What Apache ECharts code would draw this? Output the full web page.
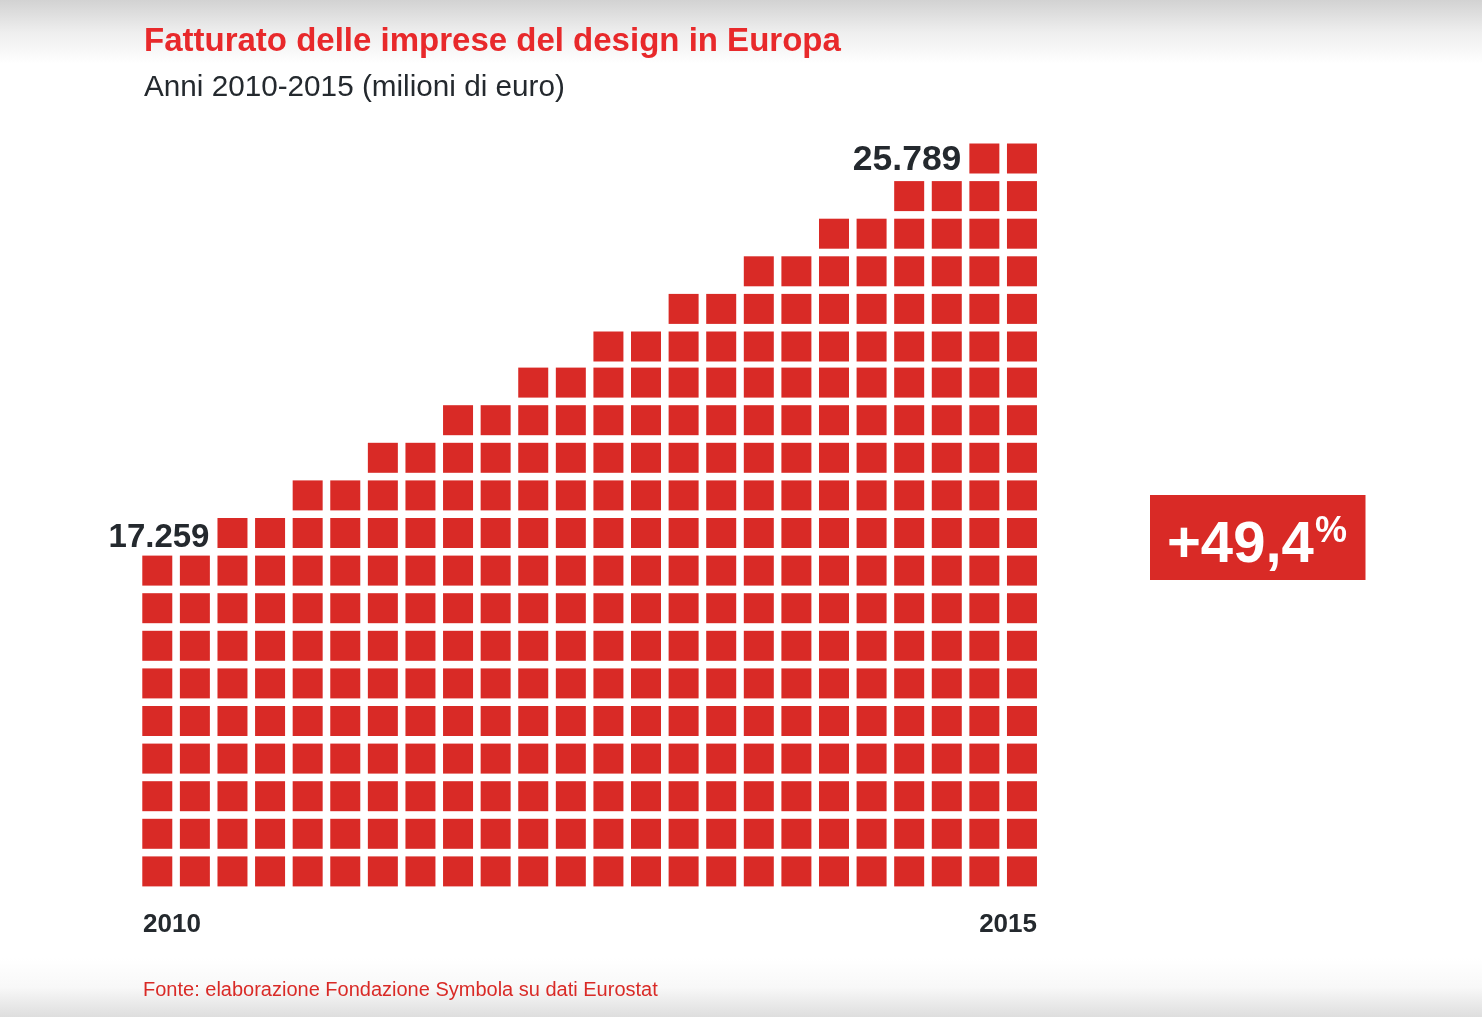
<!DOCTYPE html>
<html><head><meta charset="utf-8">
<style>html,body{margin:0;padding:0;background:#fff}#c{width:1482px;height:1017px}</style>
<script src="https://cdn.jsdelivr.net/npm/echarts@6/dist/echarts.min.js"></script>
</head><body><div id="c"></div>
<script>
const columnHeights = [9,9,10,10,11,11,12,12,13,13,14,14,15,15,16,16,17,17,18,18,19,19,20,20];
const yearLabels = ['2010','2015'];
const firstValue = '17.259';
const lastValue = '25.789';
const growth = '+49,4';
const titleText = 'Fatturato delle imprese del design in Europa';
const subtitleText = 'Anni 2010-2015 (milioni di euro)';
const sourceText = 'Fonte: elaborazione Fondazione Symbola su dati Eurostat';

const RED = '#d92a26', DARK = '#24292e', FONT = '"Liberation Sans", Arial, sans-serif';
const valueLabel = (text, size, dy) => ({show:true, position:'left', distance:8, offset:[0,dy], formatter:text,
  color:DARK, fontFamily:FONT, fontWeight:'bold', fontSize:size});

const squares = [];
columnHeights.forEach((h, c) => {
  for (let r = 0; r < h; r++) {
    const item = {value:[c, r + 0.5]};
    if (r >= 14) item.symbolOffset = [0, 1.5];
    if (c === 2 && r === h - 1) item.label = valueLabel(firstValue, 33, 5);
    if (c === 22 && r === h - 1) item.label = valueLabel(lastValue, 35.5, 2);
    squares.push(item);
  }
});

const chart = echarts.init(document.getElementById('c'));
chart.setOption({
  animation:false,
  backgroundColor:'#fff',
  title:{
    text:titleText, subtext:subtitleText, left:139, top:20, itemGap:15,
    textStyle:{color:'#e8292b', fontFamily:FONT, fontWeight:'bold', fontSize:33},
    subtextStyle:{color:DARK, fontFamily:FONT, fontSize:29.7}
  },
  grid:{left:143, right:445, top:138.2, bottom:126.8},
  xAxis:{
    type:'value', min:-0.38, max:23.4,
    axisLine:{show:false}, axisTick:{show:false}, splitLine:{show:false},
    axisLabel:{
      customValues:[-0.38, 23.4],
      formatter:v => v < 0 ? yearLabels[0] : yearLabels[1],
      alignMinLabel:'left', alignMaxLabel:'right',
      margin:22, color:DARK, fontFamily:FONT, fontWeight:'bold', fontSize:26
    }
  },
  yAxis:{type:'value', min:0, max:20, show:false},
  graphic:[
    {type:'rect', z:-10, shape:{x:0,y:0,width:1482,height:64},
     style:{fill:new echarts.graphic.LinearGradient(0,0,0,1,[{offset:0,color:'#d2d2d2'},{offset:0.5,color:'#eeeeee'},{offset:1,color:'#ffffff'}])}},
    {type:'rect', z:-10, shape:{x:0,y:958,width:1482,height:59},
     style:{fill:new echarts.graphic.LinearGradient(0,0,0,1,[{offset:0,color:'#ffffff'},{offset:0.5,color:'#f8f8f8'},{offset:1,color:'#dedede'}])}},
    {type:'rect', shape:{x:1150,y:495,width:215.5,height:85}, style:{fill:RED}},
    {type:'text', x:1167, y:546, style:{text:growth, fill:'#fff', font:'bold 58px '+FONT, textVerticalAlign:'middle'}},
    {type:'text', x:1315, y:532, style:{text:'%', fill:'#fff', font:'bold 36px '+FONT, textVerticalAlign:'middle'}},
    {type:'text', x:143, y:990, style:{text:sourceText, fill:'#d92a26', font:'20px '+FONT, textVerticalAlign:'middle'}}
  ],
  series:[{
    type:'scatter', symbol:'rect', symbolSize:30, silent:true,
    itemStyle:{color:RED, opacity:1}, data:squares
  }]
});
</script></body></html>
